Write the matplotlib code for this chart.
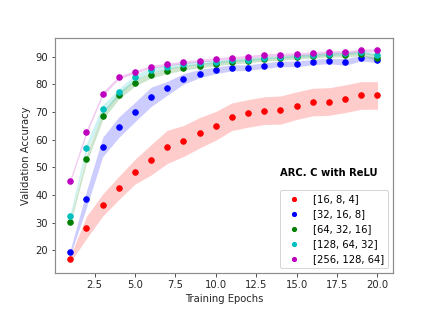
import numpy as np
import matplotlib
matplotlib.use("Agg")
import matplotlib.pyplot as plt

epochs = np.arange(1, 21)

labels = ["[16, 8, 4]", "[32, 16, 8]", "[64, 32, 16]", "[128, 64, 32]", "[256, 128, 64]"]
colors = ["r", "b", "g", "c", "m"]

red_mean = [16.8, 28.2, 36.3, 42.5, 48.4, 52.7, 57.4, 59.5, 62.5, 65.0,
            68.3, 69.5, 70.5, 70.7, 72.3, 73.6, 73.8, 74.8, 76.0, 76.0]
red_std = [1.2, 4.0, 4.0, 4.2, 4.5, 5.5, 6.0, 5.6, 5.5, 5.2,
           5.0, 5.0, 5.0, 5.1, 5.0, 5.0, 5.0, 5.0, 5.0, 5.0]

blue_mean = [19.2, 38.4, 57.3, 64.5, 70.0, 75.5, 78.6, 82.0, 83.9, 85.1,
             86.0, 86.1, 86.8, 87.4, 87.4, 88.1, 88.5, 88.1, 89.5, 88.8]
blue_std = [1.0, 3.0, 3.5, 3.7, 3.5, 3.5, 2.5, 1.9, 1.5, 1.2,
            1.1, 1.0, 1.0, 1.0, 1.0, 1.0, 1.0, 1.2, 1.0, 1.0]

green_mean = [30.3, 53.1, 68.6, 76.0, 80.6, 83.3, 84.9, 86.1, 86.8, 87.5,
              88.2, 88.6, 89.1, 89.4, 89.9, 90.2, 90.6, 90.6, 91.1, 89.7]
green_std = [1.0, 1.5, 1.5, 1.3, 1.2, 1.0, 1.0, 0.9, 0.8, 0.8,
             0.8, 0.8, 0.7, 0.7, 0.7, 0.7, 0.7, 0.7, 0.7, 1.2]

cyan_mean = [32.2, 57.1, 71.1, 77.2, 82.5, 85.2, 86.3, 87.2, 87.8, 88.2,
             88.7, 89.0, 89.6, 90.0, 90.3, 90.6, 91.0, 91.2, 91.8, 90.8]
cyan_std = [1.0, 1.5, 1.5, 1.2, 1.0, 0.8, 0.7, 0.6, 0.6, 0.6,
            0.5, 0.5, 0.5, 0.5, 0.5, 0.5, 0.5, 0.5, 0.5, 0.5]

magenta_mean = [45.2, 62.8, 76.5, 82.5, 84.5, 86.4, 87.2, 88.0, 88.6, 89.2,
                89.6, 90.0, 90.6, 90.8, 91.0, 91.3, 91.8, 91.7, 92.3, 92.4]
magenta_std = [0.8, 0.8, 0.7, 0.6, 0.5, 0.5, 0.5, 0.5, 0.5, 0.5,
               0.5, 0.5, 0.5, 0.5, 0.5, 0.5, 0.5, 0.5, 0.5, 0.5]

means = [red_mean, blue_mean, green_mean, cyan_mean, magenta_mean]
stds = [red_std, blue_std, green_std, cyan_std, magenta_std]

fig = plt.figure(figsize=(436 / 72, 312 / 72), dpi=72)
ax = fig.add_axes([0.126, 0.125, 0.775, 0.753])

for m, s, c, lab in zip(means, stds, colors, labels):
    m = np.array(m)
    s = np.array(s)
    ax.fill_between(epochs, m - s, m + s, color=c, alpha=0.2, linewidth=0)
    ax.plot(epochs, m, "o", color=c, markersize=5.5, label=lab)

ax.set_xlabel("Training Epochs", fontsize=10, color="#262626")
ax.set_ylabel("Validation Accuracy", fontsize=10, color="#262626")
ax.tick_params(colors="#262626", labelsize=10, length=3.5)
for sp in ax.spines.values():
    sp.set_color("#8c8c8c")
    sp.set_linewidth(1.2)

ax.legend(loc="lower right", fontsize=10, markerscale=0.75, handletextpad=0.9)
ax.text(0.666, 0.426, "ARC. C with ReLU", transform=ax.transAxes,
        fontsize=10, fontweight="bold", va="center", ha="left")

fig.savefig("out.png", dpi=72)
